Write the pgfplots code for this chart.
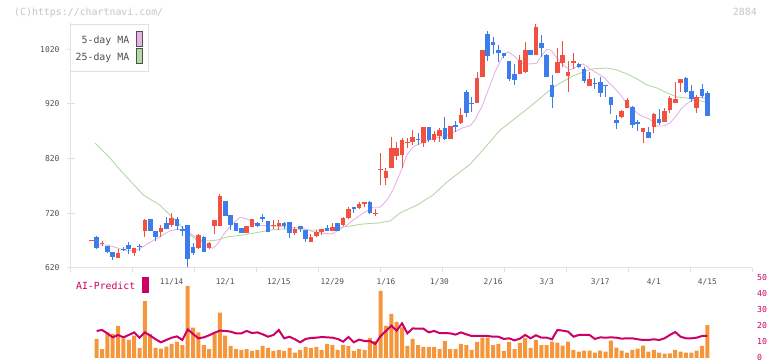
\documentclass[border=0pt]{standalone}
\usepackage{fontspec}
\setmainfont{DejaVu Sans Mono}
\usepackage{pgfplots}
\usepackage{pgfplotstable}
\pgfplotsset{compat=1.18}
\definecolor{upred}{HTML}{F25041}
\definecolor{dnblue}{HTML}{3D7CEB}
\definecolor{maF}{HTML}{E6B3E6}
\definecolor{maS}{HTML}{B3D9A6}
\definecolor{volor}{HTML}{F5963C}
\definecolor{aimag}{HTML}{CC0066}
\definecolor{axgray}{HTML}{E0E0E0}
\definecolor{ticktxt}{HTML}{505050}
\definecolor{copyc}{HTML}{C4C4C4}
\newcommand\fs[1]{\fontsize{#1}{#1}\selectfont}

\pgfplotstableread{
k O H L C
0 670 672 670 672
2 664 669 659.7 666
5 639 654.7 639 647.4
8 648 657 642.5 656.6
10 688.2 709.6 677.2 707.8
13 686.4 698.6 677.2 692.6
15 698.6 720 695.5 710.8
20 657 683 655 680.3
22 657 668 655 666.3
23 697.3 708 682 707.8
24 697.3 755 697.3 752
29 684.5 697.3 684.5 697.3
30 695.5 709 695.5 709
34 697 707.8 691.3 699
35 697.3 707.8 689 702.8
38 684.5 695 680.3 691.3
41 667.5 682 667.5 677.2
42 678.5 689.5 676 686.4
43 685 691.3 680 691.3
45 687.6 703 687 695
47 698.6 713 697 711.4
48 712 732 709.6 727.8
50 730 740 727 736.5
51 736.5 740.6 731 740.6
53 719 727 715 721
54 799 829.7 771.7 801
55 785 802 771.7 797.3
56 803.4 859.5 803.4 840
57 824.8 851 817.5 840
58 826.6 857 802 854
59 848 858 839 851
60 851 872 845 859.5
62 848 877.8 842 877.8
64 854 869.5 851 864.4
65 862 875 850 871.7
67 856.4 879.6 855 879.6
69 885.6 912 883 899.7
72 921 977.8 921 968
73 968.6 1018.5 968.6 1018.5
80 974.7 1010 974.7 1000
81 979 1033 976 1018.5
83 1009.4 1066 1009.4 1061
87 976 1021.6 976 997
88 994 1034 988 1009.4
89 971.7 998 942 978.8
90 995 1013.6 983 998
93 953.3 979 953.3 965
99 896.6 909 893.7 907
100 913 931 913 927
103 869 875.4 848 875.4
105 878.3 904 867 901.5
107 887.5 912 887.5 907
108 908.8 934.5 903 930
109 922.2 960.6 922.2 928.3
110 957.7 965.5 942 965.5
113 913 936 904 932
}\upT

\pgfplotstableread{
k O H L C
1 676.7 678.5 654.5 657
3 661 661 648 650
4 650 650 635 640
6 655.5 658 651 653.5
7 662 667.5 645 654.7
9 660 663 651.6 658
11 709.6 710 688 688.2
12 688.2 688.2 670 677.2
14 701.7 712.7 691 691.3
16 709 712.7 689.5 697.3
17 690.5 696.8 679 688.5
18 698.6 698.6 622.4 636.5
19 658.4 665 644.4 648
21 676.7 678 649 649.8
25 742.5 742.5 715.6 715.6
26 717.4 717.4 689.5 698.6
27 701.7 701.7 688.2 688.2
28 693.7 693.7 684.5 684.5
31 701.7 704 695.5 697.3
32 713 718.7 704.6 710
33 706 706 686.4 686.4
36 702.8 704 691 697.3
37 704 704 675 684.5
39 696.8 696.8 686.4 691.3
40 689.5 689.5 668 673
44 692.6 698 687.6 687.6
46 701.7 701.7 688.2 688.2
49 731 731 721 727.8
52 740.6 742.5 718 720
61 856 866 845 854
63 877.8 877.8 851 854
66 876.5 896 854 855
68 880.5 889 869 878.5
70 942.3 945.4 896.6 904
71 922 933 906 920
74 1047.8 1053 999 1008
75 1033 1043 1011 1028
76 1018.5 1027 996 1012.5
77 1013.6 1013.6 1003 1008
78 999 999 962 965.5
79 974.7 992 954.5 963.7
82 1018.5 1018.5 1009 1009.4
84 1030.8 1046 1006 1022.8
85 1009.4 1011 968.6 968.6
86 954.5 972.8 912 932
91 993 995 986 988
92 983 987 957.7 962.4
94 959 968 947 956
95 959.5 970 933 940.5
96 954 954 933 952
97 933 933 902 918
98 890.6 899.7 873.6 884.5
101 915 917 876.5 882
102 887.5 890.6 871 883
104 869 878 857 857
106 892 910 881 884.5
111 968 969.7 939 942.3
112 943.6 954.5 924 928.3
114 947.3 956.4 930 935
115 940.5 943.6 898.4 898.4
}\dnT

\pgfplotstableread{
k p
1.0 662
2.9 662
4.1 659
6.7 651
8.5 653
9.7 659
10.6 665
12.8 677
14.7 688
16.0 690.7
17.1 690
18.4 684
20.3 671
21.6 661
22.7 656
23.7 665
24.6 680
25.9 695.5
27.7 712.7
29.1 709.6
30.2 702.8
31.5 697.7
33.4 697.3
35.8 695.5
37.7 693.7
39.5 692.6
41.4 686.4
43.3 683.4
44.9 682.2
46.0 688.2
47.7 698.6
48.9 707.8
50.7 720
52.6 731
53.9 731
55.2 744.3
56.3 762.6
57.1 781
57.9 799
58.9 826.6
60.1 841.8
62.0 849.8
63.8 857
65.7 860
67.6 868
69.4 876.5
70.7 880
71.6 890.6
72.9 914.9
74.1 945.4
75.4 978.9
76.6 1003.4
77.8 1015.4
79.1 1006.3
80.3 994.2
81.9 993
83.1 994.2
84.4 1012.5
85.0 1019.8
85.9 1017.6
86.9 1003.4
88.1 991
89.4 982
90.6 988
91.8 993
93.1 983.8
94.4 976
95.9 966.8
96.8 956.4
97.4 951.5
98.7 938
99.9 921
101.2 908.8
102.4 899.7
103.0 896.6
104.3 891.8
105.5 879.6
106.8 879.6
108.0 884.5
109.3 899.7
110.2 912
111.4 922.2
112.7 928.4
113.6 932
115.0 929
}\maFT

\pgfplotstableread{
k p
0.7 848.5
3.5 821
5.4 799
7.2 780
9.7 753.5
12.8 735
16.0 704
18.0 684
19.7 671
21.6 669.4
23.5 671
25.3 676.7
28.3 680.3
31.5 685.8
33.4 689.5
35.8 691.3
39.5 689.5
42.1 689.5
45.1 693
48.3 696.8
50.7 700.4
53.5 702.2
55.8 706
57.6 720.5
60.8 735
63.8 753.5
66.4 777.2
70.7 809.6
73.1 835.7
76.3 872
80.4 903.4
83.4 927
85.6 945.4
86.9 954.5
89.9 971
91.8 978.3
93.6 984
96.3 985.6
98.1 982
100.0 974.7
101.9 965.5
103.7 954.5
105.6 949
107.5 940
109.3 932.6
111.2 930.8
113.1 927
114.6 923.5
}\maST

\pgfplotstableread{
k vol ai
1 11.9 16.9
2 5.6 17.5
3 16 15.4
4 15 12.9
5 20 14.4
6 12.3 12.9
7 11.3 14.4
8 14 16
9 6.3 12.7
10 35.6 16
11 15 14
12 6.3 11.7
13 5.8 9.8
14 7.1 11.25
15 8.75 12.7
16 10.2 13.5
17 8.1 11.25
18 45 17.9
19 19 15
20 16 12.3
21 8.1 12.9
22 5.6 14.2
23 15.4 15.8
24 28.3 17.1
25 14 16.9
26 7.5 16.5
27 5.6 15.4
28 5 15.4
29 5.6 16.9
30 4.4 15.6
31 5 16
32 7.5 14.8
33 6.3 13.3
34 4.4 14.4
35 5 17.5
36 4.4 12.3
37 6.3 13.3
38 3.3 11.7
39 5 9.8
40 6.9 11.9
41 6.4 12.5
42 7.0 12.7
43 5 13.1
44 8.75 12.9
45 8.1 12.7
46 5 11.9
47 8.1 10.2
48 7.5 13.1
49 4.4 9.8
50 5.6 11.5
51 5 10.6
52 12.5 10.6
53 10.6 8.75
54 41.9 13.75
55 20 16.9
56 27.5 20.2
57 22.5 17.1
58 19.2 21.7
59 7.5 15.4
60 11.9 18.5
61 8.1 18.3
62 6.9 18.3
63 6.9 16
64 6.9 16.9
65 5.6 15.6
66 10.6 15.6
67 5.6 15.4
68 5.6 14.6
69 8.75 16
70 8.1 14.8
71 5 13.75
72 10 13.75
73 12.7 13.75
74 12.7 13.75
75 8.1 13.3
76 8.75 13.3
77 4.4 11.9
78 10 12.3
79 5.6 11
80 9.4 12.1
81 12.5 14.4
82 6.3 12.3
83 11.25 14.2
84 8.1 12.7
85 8.1 12.7
86 10.2 11.7
87 9.6 17.5
88 7.7 17.1
89 10.2 16.5
90 5 13.3
91 4 14.4
92 4.6 14.4
93 4.6 14.4
94 3.3 11.9
95 4.6 12.9
96 4 12.7
97 10.8 12.9
98 6.5 12.7
99 4.6 12.1
100 3.3 12.3
101 5 12.3
102 5.8 11.7
103 7.7 11.25
104 4 11.25
105 5 11.7
106 3.3 11.25
107 2.7 12.3
108 2.9 14.4
109 5 16.25
110 4 13.3
111 3.3 12.3
112 3.3 12.3
113 4.6 12.7
114 7.5 13.75
115 20.6 13.75
}\volT

\begin{document}
\begin{tikzpicture}
\useasboundingbox (0pt,0pt) rectangle (772pt,361pt);
% main price axis
\begin{axis}[
  at={(70.7pt,93pt)}, anchor=south west,
  width=681.3pt, height=245.1pt, scale only axis,
  xmin=-3.845, xmax=123.33, ymin=620, ymax=1068,
  axis x line*=bottom, axis y line*=left,
  xtick pos=bottom, ytick pos=left,
  axis line style={-, draw=axgray, line width=1pt},
  xtick=\empty,
  extra x ticks={-3.845,7.716,19.278,30.839,42.401,53.962,65.523,77.085,88.646,100.208,111.769,123.33},
  extra x tick labels={},
  extra x tick style={major tick length=4pt, tick align=outside},
  ytick={620,720,820,920,1020},
  major tick length=8pt, tick align=center,
  tick style={draw=axgray, line width=1pt},
  yticklabel style={font=\fs{8}, text=ticktxt, inner sep=0pt, xshift=-7pt},
  /pgf/number format/assume math mode=true,
  /pgf/number format/1000 sep={},
]
\addplot[maS, line width=0.9pt] table[x=k,y=p] {\maST};
\addplot[maF, line width=0.9pt] table[x=k,y=p] {\maFT};
% wicks
\addplot[draw=none, mark=none, forget plot, error bars/.cd, y dir=plus, y explicit, error mark=none,
  error bar style={draw=upred, line width=1pt}]
  table[x=k, y=L, y error plus expr=\thisrow{H}-\thisrow{L}] {\upT};
\addplot[draw=none, mark=none, forget plot, error bars/.cd, y dir=plus, y explicit, error mark=none,
  error bar style={draw=dnblue, line width=1pt}]
  table[x=k, y=L, y error plus expr=\thisrow{H}-\thisrow{L}] {\dnT};
% bodies
\addplot[draw=none, mark=none, forget plot, error bars/.cd, y dir=plus, y explicit, error mark=none,
  error bar style={draw=upred, line width=4.6pt}]
  table[x=k, y=O, y error plus expr=\thisrow{C}-\thisrow{O}] {\upT};
\addplot[draw=none, mark=none, forget plot, error bars/.cd, y dir=plus, y explicit, error mark=none,
  error bar style={draw=dnblue, line width=4.6pt}]
  table[x=k, y=C, y error plus expr=\thisrow{O}-\thisrow{C}] {\dnT};
\end{axis}
% lower AI-Predict axis
\begin{axis}[
  at={(70.7pt,3pt)}, anchor=south west,
  width=681.3pt, height=80pt, scale only axis,
  xmin=-3.845, xmax=123.33, ymin=0, ymax=50,
  axis line style={draw=none},
  major tick length=0pt, tick style={draw=none},
  xtick={15,25,35,45,55,65,75,85,95,105,115},
  xticklabels={11/14,12/1,12/15,12/29,1/16,1/30,2/16,3/3,3/17,4/1,4/15},
  xticklabel pos=right,
  xticklabel style={anchor=center, yshift=-4.3pt, font=\fs{7.8}, text=ticktxt, inner sep=0pt},
  ytick={0,10,20,30,40,50},
  yticklabel pos=right,
  yticklabel style={anchor=west, inner sep=0pt, xshift=5pt, yshift=0.8pt, font=\fs{8.2}, text=aimag},
  /pgf/number format/assume math mode=true,
]
\addplot[ybar, bar width=4pt, fill=volor, draw=none] table[x=k,y=vol] {\volT};
\addplot[aimag, line width=2pt, mark=none] table[x=k,y=ai] {\volT};
\end{axis}
% texts and legend
\node[anchor=west, inner sep=0pt, text=copyc, font=\fs{9.9}] at (14pt,348.7pt) {(C)https://chartnavi.com/};
\node[anchor=east, inner sep=0pt, text=copyc, font=\fs{9.9}] at (757pt,349pt) {2884};
\draw[draw=axgray, fill=white, line width=0.8pt] (70.3pt,289.7pt) rectangle (148.7pt,336.7pt);
\node[anchor=east, inner sep=0pt, text=ticktxt, font=\fs{9.9}] at (129.5pt,320pt) {5-day MA};
\node[anchor=east, inner sep=0pt, text=ticktxt, font=\fs{9.9}] at (129.5pt,303.7pt) {25-day MA};
\draw[draw=ticktxt, fill=maF, line width=0.8pt] (136.3pt,314.3pt) rectangle (142.7pt,330pt);
\draw[draw=ticktxt, fill=maS, line width=0.8pt] (136.3pt,297.7pt) rectangle (142.7pt,312.7pt);
\node[anchor=west, inner sep=0pt, text=aimag, font=\fs{9.8}] at (76pt,75pt) {AI-Predict};
\fill[aimag] (142pt,68.3pt) rectangle (148.7pt,83.7pt);
\end{tikzpicture}
\end{document}
